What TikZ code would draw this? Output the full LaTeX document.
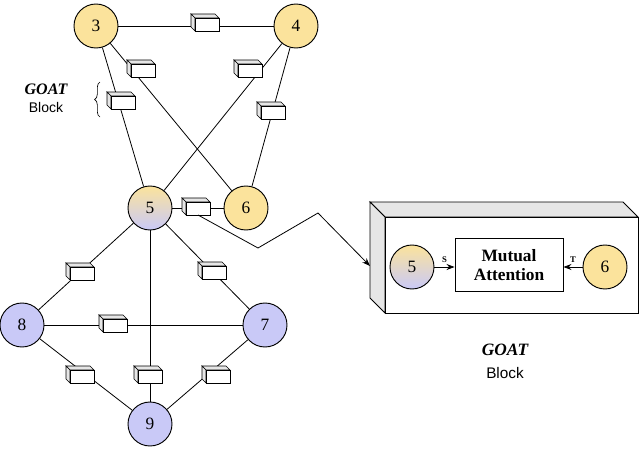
\documentclass[tikz,border=0pt]{standalone}
\usepackage{fontspec}
\setmainfont{Liberation Serif}
\newfontfamily\sansf{Liberation Sans}
\usetikzlibrary{arrows.meta,decorations.pathreplacing}
\definecolor{yel}{HTML}{FBE39C}
\definecolor{pur}{HTML}{C9C9F7}
\definecolor{side}{HTML}{E6E6E6}
\tikzset{
 x=0.75pt,y=-0.75pt,
 nd/.style={circle,draw,line width=0.7pt,minimum size=33pt,inner sep=0pt,font=\fontsize{13}{13}\selectfont},
 yn/.style={nd,fill=yel},
 pn/.style={nd,fill=pur},
 gn/.style={nd,top color=yel,bottom color=pur},
 e/.style={line width=0.6pt},
}
\newcommand{\cub}[2]{%
 \filldraw[fill=side,line width=0.5pt] (#1-12,#2-6) -- ++(-4,-4) -- ++(24,0) -- ++(4,4) -- cycle;
 \filldraw[fill=side,line width=0.5pt] (#1-12,#2-6) -- ++(-4,-4) -- ++(0,13) -- ++(4,4) -- cycle;
 \filldraw[fill=white,line width=0.5pt] (#1-12,#2-6) rectangle (#1+12,#2+7);}
\begin{document}
\begin{tikzpicture}
\useasboundingbox (0,0) rectangle (640,450);
\node[yn] (n3) at (96,26) {3};
\node[yn] (n4) at (296,26) {4};
\node[gn] (n5) at (150,208) {5};
\node[yn] (n6) at (246,208) {6};
\node[pn] (n8) at (22,325) {8};
\node[pn] (n7) at (265,325) {7};
\node[pn] (n9) at (150,424) {9};
\foreach \a/\b in {n3/n4,n3/n6,n3/n5,n4/n5,n4/n6,n5/n6,n5/n8,n5/n7,n5/n9,n8/n7,n8/n9,n7/n9}
  \draw[e] (\a) -- (\b);
\cub{207}{24}\cub{143}{70}\cub{123}{102}\cub{250}{70}\cub{273}{112}\cub{198}{208}
\cub{82}{273}\cub{214}{272}\cub{150}{376}\cub{115}{325}\cub{82}{376}\cub{218}{376}
\node[font=\bfseries\itshape\fontsize{12}{12}\selectfont] (gl) at (46,89) {GOAT};
\node[font=\sansf\fontsize{10.5}{10.5}\selectfont] (bl) at (46,107) {Block};
\draw[decorate,decoration={brace,amplitude=4pt},line width=0.5pt] (100,117) -- (100,82);
\filldraw[fill=side,line width=0.7pt] (370,202) -- (623,202) -- (638,217) -- (385,217) -- cycle;
\filldraw[fill=side,line width=0.7pt] (370,202) -- (385,217) -- (385,313) -- (370,298) -- cycle;
\draw[fill=white,line width=0.7pt] (385,217) rectangle (638,313);
\coordinate (bin) at (370,266);
\coordinate (k1) at (258,248);
\coordinate (k2) at (318,213);
\coordinate (k0) at (198,215);
\draw[e,-{Stealth[length=6pt]}] (k0) -- (k1) -- (k2) -- (bin);
\node[gn] (m5) at (412,267) {5};
\node[yn] (m6) at (605,267) {6};
\node[draw,line width=0.7pt,minimum width=81pt,minimum height=40pt,align=center,font=\bfseries\fontsize{13}{14}\selectfont] (ma) at (509,265) {Mutual\\Attention};
\draw[e,-{Stealth[length=6pt]}] (m5) -- node[above,font=\bfseries\fontsize{6.5}{6.5}\selectfont]{S} (m5-|ma.west);
\draw[e,-{Stealth[length=6pt]}] (m6) -- node[above,font=\bfseries\fontsize{6.5}{6.5}\selectfont]{T} (m6-|ma.east);
\node[font=\bfseries\itshape\fontsize{13}{13}\selectfont] (gb) at (505,350) {GOAT};
\node[font=\sansf\fontsize{11.5}{11.5}\selectfont] (bb) at (505,373) {Block};
\end{tikzpicture}
\end{document}
